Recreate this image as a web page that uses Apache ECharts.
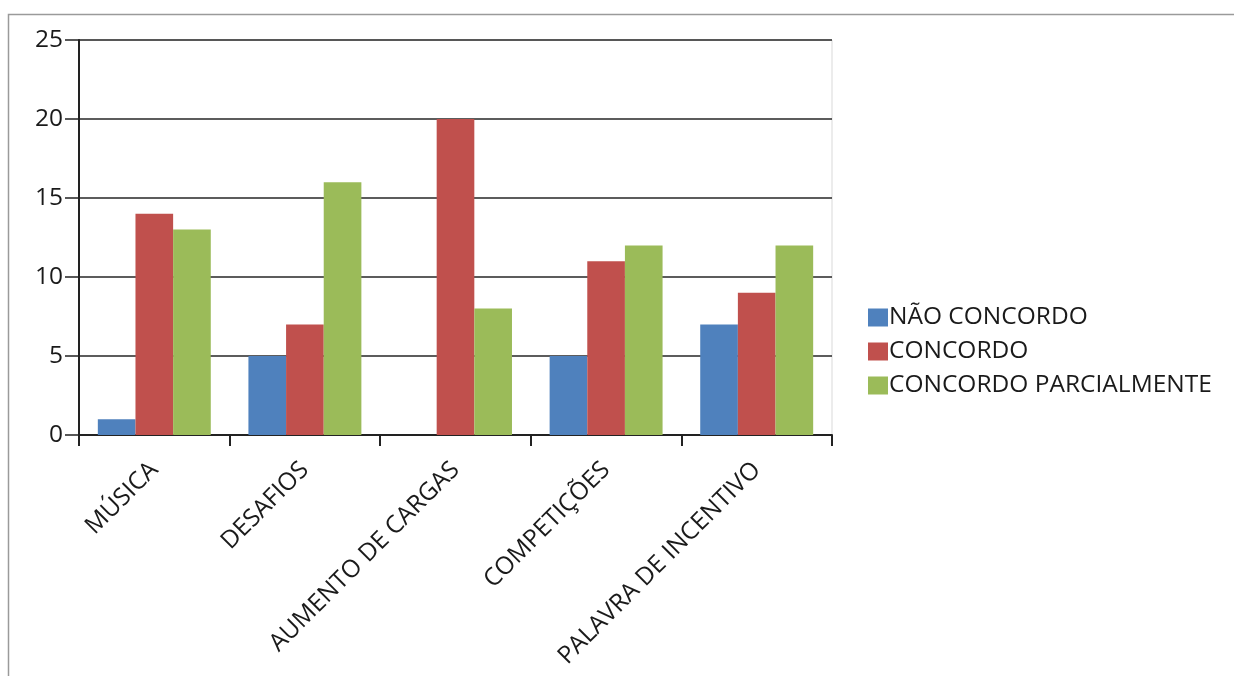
<!DOCTYPE html>
<html>
<head>
<meta charset="utf-8">
<script src="https://cdn.jsdelivr.net/npm/echarts@6/dist/echarts.min.js"></script>
<style>
html,body{margin:0;padding:0;background:#fff;}
#chart{width:1234px;height:676px;}
</style>
</head>
<body>
<div id="chart"></div>
<script>
const categories = ['MÚSICA', 'DESAFIOS', 'AUMENTO DE CARGAS', 'COMPETIÇÕES', 'PALAVRA DE INCENTIVO'];
const naoConcordo = [1, 5, 0, 5, 7];
const concordo = [14, 7, 20, 11, 9];
const concordoParcialmente = [13, 16, 8, 12, 12];
const seriesNames = ['NÃO CONCORDO', 'CONCORDO', 'CONCORDO PARCIALMENTE'];
const colors = ['#4F81BD', '#C0504D', '#9BBB59'];

const FONT = '"Open Sans", "DejaVu Sans", sans-serif';
const chart = echarts.init(document.getElementById('chart'), null, {renderer: 'canvas'});
const mk = (name, data, color) => ({
  name, type: 'bar', data, barGap: '0%', barCategoryGap: '25%',
  itemStyle: {color}
});
chart.setOption({
  animation: false,
  textStyle: {fontFamily: FONT},
  graphic: [{
    type: 'rect', silent: true, z: -10,
    shape: {x: 8.5, y: 14.5, width: 1400, height: 900},
    style: {fill: 'none', stroke: '#9a9a9a', lineWidth: 1.5}
  }],
  legend: {
    orient: 'vertical', left: 863, top: 300,
    itemWidth: 20, itemHeight: 18, itemGap: 9,
    icon: 'rect',
    textStyle: {fontFamily: FONT, fontSize: 24.5, lineHeight: 23, color: '#1a1a1a', padding: [0, 0, 0, -4]},
    data: seriesNames
  },
  grid: {
    left: 79, right: 402, top: 40, bottom: 241,
    show: true, borderColor: '#d9d9d9', borderWidth: 1, backgroundColor: 'transparent'
  },
  xAxis: {
    type: 'category', data: categories,
    axisLine: {lineStyle: {color: '#222', width: 2}},
    axisTick: {show: true, length: 11, alignWithLabel: false, lineStyle: {color: '#222', width: 2}},
    axisLabel: {rotate: 45, margin: 31, interval: 0, fontSize: 24.5, color: '#1a1a1a', fontFamily: FONT, verticalAlign: 'middle', align: 'right'},
    splitLine: {show: false}
  },
  yAxis: {
    type: 'value', min: 0, max: 25, interval: 5,
    axisLine: {show: true, lineStyle: {color: '#222', width: 2}},
    axisTick: {show: true, inside: false, length: 14, lineStyle: {color: '#222', width: 1.5}},
    axisLabel: {fontSize: 24.5, color: '#1a1a1a', margin: 16, fontFamily: FONT},
    splitLine: {show: true, lineStyle: {color: '#262626', width: 1.6}}
  },
  series: [
    mk(seriesNames[0], naoConcordo, colors[0]),
    mk(seriesNames[1], concordo, colors[1]),
    mk(seriesNames[2], concordoParcialmente, colors[2])
  ]
});
</script>
</body>
</html>
